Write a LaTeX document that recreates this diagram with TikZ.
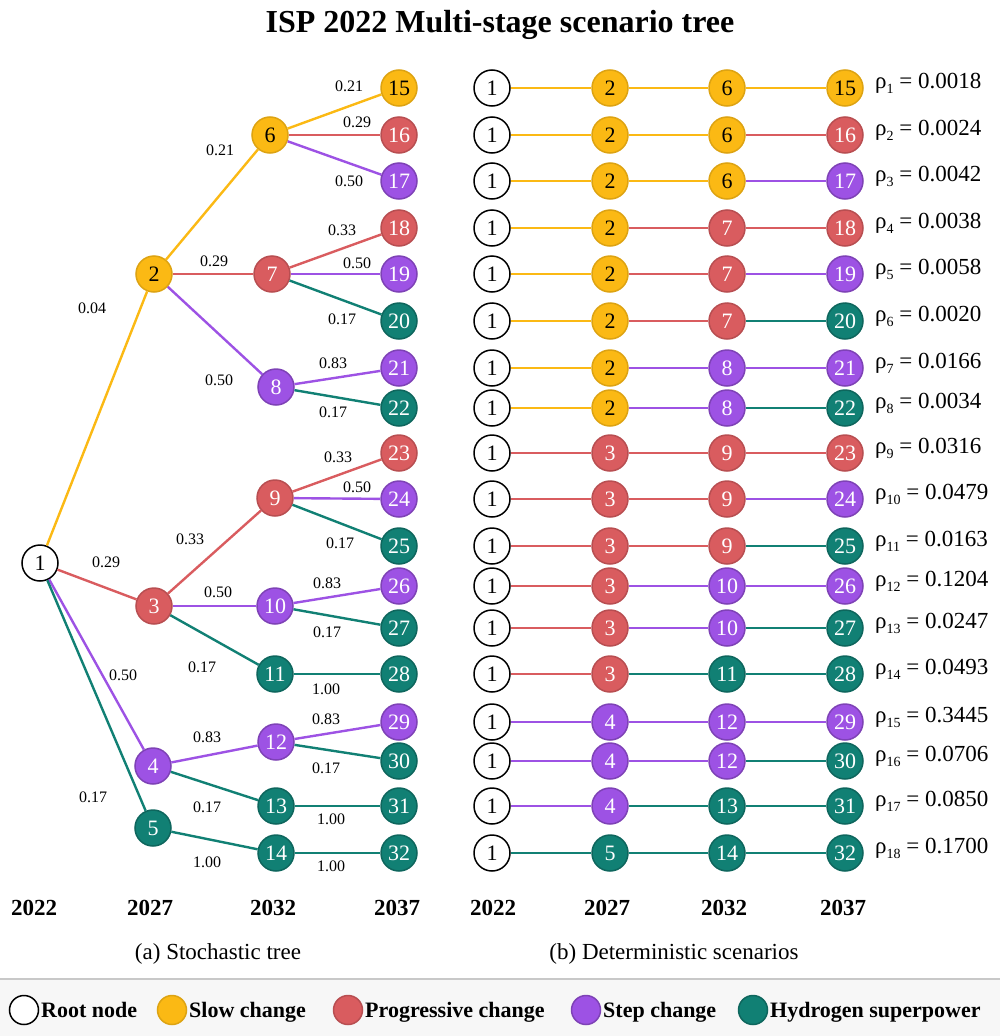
\documentclass[tikz,border=0pt]{standalone}
\usepackage{fontspec}
\setmainfont{Liberation Serif}
\usepackage{xcolor}
\usetikzlibrary{positioning}

\definecolor{colS}{RGB}{251,185,20}
\definecolor{colP}{RGB}{217,92,95}
\definecolor{colT}{RGB}{157,82,228}
\definecolor{colH}{RGB}{17,128,116}
\definecolor{colR}{RGB}{0,0,0}
\definecolor{legbg}{RGB}{247,247,247}
\definecolor{legline}{RGB}{200,200,200}

\newcommand{\rhosub}[1]{\raisebox{-5pt}{\fontsize{14}{14}\selectfont #1}}

\begin{document}
\begin{tikzpicture}[
  x=1pt, y=-1pt,
  nd/.style={circle, minimum size=36pt, inner sep=0pt, line width=1.5pt, font=\fontsize{22}{22}\selectfont},
  ndR/.style={nd, draw=black, fill=white},
  ndS/.style={nd, draw=colS!88!black, fill=colS},
  ndP/.style={nd, draw=colP!85!black, fill=colP, text=white},
  ndT/.style={nd, draw=colT!80!black, fill=colT, text=white},
  ndH/.style={nd, draw=colH!80!black, fill=colH, text=white},
  edge/.style={line width=2.4pt},
  lbl/.style={font=\fontsize{16}{16}\selectfont, inner sep=1pt},
  yr/.style={anchor=base, font=\bfseries\fontsize{23}{23}\selectfont},
  rho/.style={anchor=base west, font=\fontsize{23}{23}\selectfont, inner sep=0pt},
  capt/.style={anchor=base, font=\fontsize{23}{23}\selectfont},
  lgc/.style={circle, minimum size=29pt, inner sep=0pt, line width=1.5pt},
  lgt/.style={anchor=base west, font=\bfseries\fontsize{22}{22}\selectfont, inner sep=0pt}
]
\useasboundingbox (0,0) rectangle (1000,1036);

% title
\node[anchor=base, font=\bfseries\fontsize{32}{32}\selectfont] (title) at (500,32) {ISP 2022 Multi-stage scenario tree};

% (a) stochastic tree
\foreach \n/\x/\y/\c in {1/40/563/R, 2/154/274/S, 3/154/606/P, 4/153/766/T, 5/153/828/H,
  6/270/135/S, 7/272/274/P, 8/276/387/T, 9/275/498/P, 10/275/606/T, 11/275/674/H,
  12/276/742/T, 13/276/806/H, 14/276/853/H,
  15/399/88/S, 16/399/135/P, 17/399/181/T, 18/399/228/P, 19/399/274/T, 20/399/321/H,
  21/399/368/T, 22/399/408/H, 23/399/453/P, 24/399/499/T, 25/399/546/H, 26/399/586/T,
  27/399/628/H, 28/399/674/H, 29/399/722/T, 30/399/761/H, 31/399/806/H, 32/399/853/H}
  \node[nd\c] (t\n) at (\x,\y) {\n};

\foreach \s/\t/\c/\lx/\ly/\p in {1/2/S/92/308/0.04, 2/6/S/220/150/0.21, 6/15/S/349/86/0.21,
  6/16/P/357/122/0.29, 6/17/T/349/181/0.50, 2/7/P/214/261/0.29, 7/18/P/342/230/0.33,
  7/19/T/357/263/0.50, 7/20/H/342/319/0.17, 2/8/T/219/380/0.50, 8/21/T/333/363/0.83,
  8/22/H/333/412/0.17, 1/3/P/106/562/0.29, 3/9/P/190/539/0.33, 9/23/P/338/457/0.33,
  9/24/T/357/487/0.50, 9/25/H/340/543/0.17, 3/10/T/218/592/0.50, 10/26/T/327/583/0.83,
  10/27/H/327/632/0.17, 3/11/H/202/667/0.17, 11/28/H/326/689/1.00, 1/4/T/123/675/0.50,
  4/12/T/207/737/0.83, 12/29/T/326/719/0.83, 12/30/H/326/768/0.17, 4/13/H/207/807/0.17,
  13/31/H/331/819/1.00, 1/5/H/93/797/0.17, 5/14/H/207/862/1.00, 14/32/H/331/866/1.00}
{
  \draw[edge, draw=col\c] (t\s) -- (t\t);
  \node[lbl] (l\s-\t) at (\lx,\ly) {\p};
}

% (b) deterministic scenarios
\foreach \i/\y/\a/\ca/\b/\cb/\cl/\p in {1/88/2/S/6/S/S/0.0018, 2/135/2/S/6/S/P/0.0024,
  3/181/2/S/6/S/T/0.0042, 4/228/2/S/7/P/P/0.0038, 5/274/2/S/7/P/T/0.0058,
  6/321/2/S/7/P/H/0.0020, 7/368/2/S/8/T/T/0.0166, 8/408/2/S/8/T/H/0.0034,
  9/453/3/P/9/P/P/0.0316, 10/499/3/P/9/P/T/0.0479, 11/546/3/P/9/P/H/0.0163,
  12/586/3/P/10/T/T/0.1204, 13/628/3/P/10/T/H/0.0247, 14/674/3/P/11/H/H/0.0493,
  15/722/4/T/12/T/T/0.3445, 16/761/4/T/12/T/H/0.0706, 17/806/4/T/13/H/H/0.0850,
  18/853/5/H/14/H/H/0.1700}
{
  \pgfmathtruncatemacro{\lf}{\i+14}
  \node[ndR] (r\i-0) at (492,\y) {1};
  \node[nd\ca] (r\i-1) at (610,\y) {\a};
  \node[nd\cb] (r\i-2) at (727,\y) {\b};
  \node[nd\cl] (r\i-3) at (845,\y) {\lf};
  \draw[edge, draw=col\ca] (r\i-0) -- (r\i-1);
  \draw[edge, draw=col\cb] (r\i-1) -- (r\i-2);
  \draw[edge, draw=col\cl] (r\i-2) -- (r\i-3);
  \node[rho] (p\i) at (875,\y) {ρ\rhosub{\i} = \p};
}

% years
\foreach \x/\t [count=\k] in {34/2022, 150/2027, 273/2032, 397/2037, 493/2022, 607/2027, 724/2032, 843/2037}
  \node[yr] (y\k) at (\x,915) {\t};

\node[capt] (capa) at (218,959) {(a) Stochastic tree};
\node[capt] (capb) at (674,959) {(b) Deterministic scenarios};

% legend
\fill[legbg] (0,979) rectangle (1000,1036);
\draw[legline, line width=1.5pt] (0,979) -- (1000,979);
\node[lgc, draw=black, fill=white] (g1) at (24,1010) {};
\node[lgt] (g1t) at (41,1017) {Root node};
\node[lgc, draw=colS!88!black, fill=colS] (g2) at (172,1010) {};
\node[lgt] (g2t) at (189,1017) {Slow change};
\node[lgc, draw=colP!85!black, fill=colP] (g3) at (348,1010) {};
\node[lgt] (g3t) at (365,1017) {Progressive change};
\node[lgc, draw=colT!80!black, fill=colT] (g4) at (586,1010) {};
\node[lgt] (g4t) at (603,1017) {Step change};
\node[lgc, draw=colH!80!black, fill=colH] (g5) at (753,1010) {};
\node[lgt] (g5t) at (770,1017) {Hydrogen superpower};
\end{tikzpicture}
\end{document}
